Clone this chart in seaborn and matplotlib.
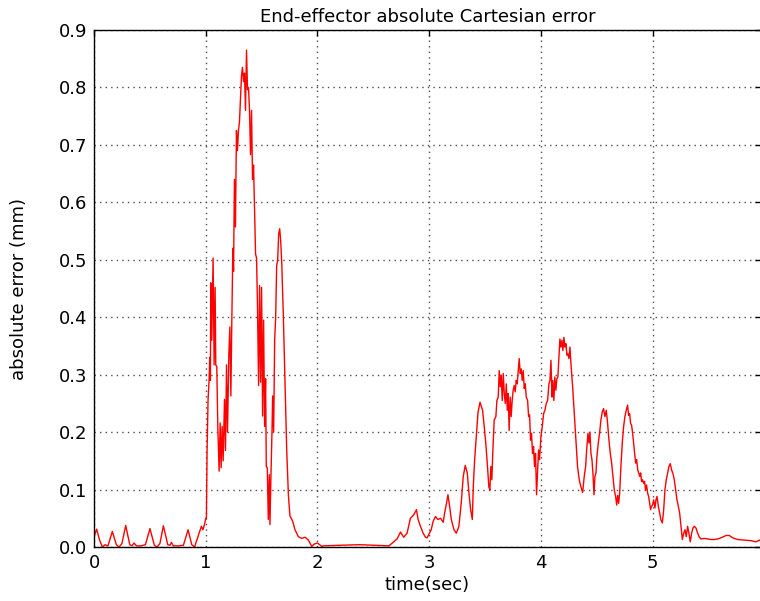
import numpy as np
import pandas as pd
import matplotlib
matplotlib.use("Agg")
import matplotlib.pyplot as plt
import seaborn as sns
from matplotlib.ticker import FormatStrFormatter

# ---- data ----
t_rest1 = [0.0, 0.024, 0.05, 0.075, 0.10, 0.125, 0.164, 0.20, 0.225, 0.25, 0.284, 0.32, 0.34,
           0.358, 0.38, 0.42, 0.46, 0.501, 0.54, 0.565, 0.59, 0.621, 0.66, 0.68, 0.693, 0.71,
           0.76, 0.80, 0.842, 0.875, 0.90, 0.925, 0.961, 0.975, 0.99, 1.0]
e_rest1 = [0.018, 0.031, 0.012, 0.0, 0.004, 0.002, 0.027, 0.004, 0.0, 0.006, 0.0375, 0.004, 0.002,
           0.007, 0.002, 0.002, 0.004, 0.032, 0.003, 0.0, 0.006, 0.037, 0.004, 0.003, 0.008, 0.002,
           0.002, 0.003, 0.030, 0.004, 0.0, 0.015, 0.036, 0.03, 0.04, 0.05]

t_burst = [1.006, 1.012, 1.021, 1.030, 1.036, 1.042, 1.045, 1.054, 1.066, 1.075, 1.084, 1.090,
           1.099, 1.108, 1.120, 1.129, 1.138, 1.147, 1.156, 1.168, 1.177, 1.186, 1.195, 1.207,
           1.216, 1.225, 1.234, 1.243, 1.249, 1.257, 1.266, 1.275, 1.284, 1.293, 1.302, 1.311,
           1.320, 1.329, 1.338, 1.347, 1.356, 1.365, 1.374, 1.383, 1.392, 1.401, 1.410, 1.419,
           1.428, 1.437, 1.446, 1.455, 1.464, 1.473, 1.482, 1.491, 1.500, 1.509, 1.518, 1.527,
           1.536, 1.542, 1.551, 1.560, 1.569, 1.575, 1.584, 1.593, 1.599, 1.608, 1.617, 1.626,
           1.635, 1.644, 1.653, 1.662, 1.671, 1.680, 1.695, 1.710, 1.725, 1.740, 1.754, 1.778,
           1.799, 1.829, 1.859, 1.889, 1.919, 1.949, 1.970, 2.000, 2.039]
e_burst = [0.05, 0.168, 0.257, 0.29, 0.33, 0.29, 0.46, 0.36, 0.503, 0.317, 0.452, 0.317,
           0.314, 0.21, 0.132, 0.216, 0.138, 0.21, 0.15, 0.257, 0.168, 0.317, 0.20, 0.335,
           0.383, 0.263, 0.40, 0.52, 0.48, 0.64, 0.557, 0.725, 0.69, 0.725, 0.74, 0.78,
           0.82, 0.835, 0.81, 0.825, 0.76, 0.865, 0.796, 0.80, 0.76, 0.683, 0.76, 0.64,
           0.665, 0.59, 0.51, 0.503, 0.413, 0.281, 0.455, 0.287, 0.452, 0.228, 0.395, 0.21,
           0.293, 0.14, 0.138, 0.048, 0.126, 0.039, 0.126, 0.20, 0.263, 0.20, 0.36, 0.40,
           0.49, 0.50, 0.545, 0.554, 0.533, 0.497, 0.40, 0.287, 0.168, 0.09, 0.054, 0.045,
           0.03, 0.018, 0.015, 0.017, 0.012, 0.001, 0.005, 0.007, 0.001]

t_rest2 = [2.05, 2.2, 2.38, 2.5, 2.64]
e_rest2 = [0.002, 0.003, 0.004, 0.003, 0.002]

t_move = [2.713, 2.743, 2.772, 2.802, 2.832, 2.862, 2.886, 2.901, 2.922, 2.946, 2.967, 2.982,
          3.003, 3.018, 3.036, 3.057, 3.078, 3.102, 3.126, 3.138, 3.156, 3.168, 3.183, 3.198,
          3.222, 3.243, 3.266, 3.287, 3.305, 3.323, 3.341, 3.356, 3.371, 3.386, 3.395, 3.407,
          3.422, 3.437, 3.455, 3.478, 3.493, 3.507, 3.522, 3.534, 3.543, 3.552, 3.561, 3.570,
          3.582, 3.597, 3.606, 3.618, 3.627, 3.636, 3.645, 3.654, 3.663, 3.672, 3.681, 3.690,
          3.699, 3.707, 3.716, 3.725, 3.734, 3.743, 3.752, 3.761, 3.770, 3.779, 3.788, 3.797,
          3.806, 3.815, 3.824, 3.833, 3.842, 3.851, 3.860, 3.869, 3.881, 3.890, 3.899, 3.907,
          3.916, 3.925, 3.934, 3.943, 3.952, 3.961, 3.970, 3.979, 3.988, 4.000, 4.012, 4.024,
          4.036, 4.048, 4.060, 4.072, 4.081, 4.090, 4.099, 4.107, 4.116, 4.125, 4.134, 4.143,
          4.152, 4.161, 4.170, 4.179, 4.188, 4.197, 4.206, 4.215, 4.224, 4.233, 4.242, 4.251,
          4.260, 4.269, 4.284, 4.299, 4.313, 4.328, 4.343, 4.358, 4.373, 4.388, 4.400, 4.412,
          4.421, 4.430, 4.439, 4.448, 4.457, 4.466, 4.475, 4.484, 4.493, 4.501, 4.513, 4.525,
          4.537, 4.549, 4.561, 4.573, 4.585, 4.597, 4.609, 4.621, 4.633, 4.645, 4.657, 4.669,
          4.678, 4.687, 4.696, 4.705, 4.716, 4.728, 4.740, 4.752, 4.764, 4.776, 4.785, 4.794,
          4.803, 4.812, 4.821, 4.830, 4.839, 4.848, 4.857, 4.866, 4.875, 4.884, 4.893, 4.901,
          4.910, 4.919, 4.928, 4.937, 4.946, 4.955, 4.964, 4.973, 4.982, 4.991, 5.000, 5.009,
          5.021, 5.030, 5.039, 5.051, 5.063, 5.075, 5.087, 5.099, 5.110, 5.122, 5.134, 5.146,
          5.158, 5.170, 5.182, 5.194, 5.206, 5.218, 5.230, 5.242, 5.254, 5.266, 5.278, 5.290,
          5.301, 5.313, 5.325, 5.337, 5.349, 5.361, 5.373, 5.388, 5.403, 5.418]
e_move = [0.014, 0.026, 0.017, 0.024, 0.050, 0.056, 0.065, 0.048, 0.036, 0.024, 0.017, 0.016,
          0.024, 0.030, 0.045, 0.053, 0.048, 0.050, 0.043, 0.059, 0.077, 0.091, 0.071, 0.048,
          0.030, 0.024, 0.036, 0.077, 0.123, 0.142, 0.129, 0.094, 0.065, 0.048, 0.106, 0.152,
          0.193, 0.234, 0.252, 0.238, 0.209, 0.18, 0.14, 0.105, 0.099, 0.140, 0.117, 0.168,
          0.221, 0.227, 0.255, 0.261, 0.307, 0.279, 0.299, 0.255, 0.302, 0.267, 0.25, 0.284,
          0.238, 0.267, 0.203, 0.261, 0.227, 0.255, 0.273, 0.281, 0.270, 0.290, 0.284, 0.307,
          0.328, 0.302, 0.310, 0.290, 0.307, 0.276, 0.284, 0.261, 0.255, 0.227, 0.230, 0.186,
          0.198, 0.163, 0.175, 0.140, 0.163, 0.091, 0.129, 0.169, 0.152, 0.192, 0.209, 0.232,
          0.238, 0.250, 0.255, 0.284, 0.290, 0.325, 0.261, 0.290, 0.255, 0.296, 0.273, 0.293,
          0.296, 0.330, 0.362, 0.348, 0.360, 0.342, 0.365, 0.348, 0.354, 0.334, 0.336, 0.328,
          0.348, 0.319, 0.279, 0.232, 0.186, 0.140, 0.117, 0.105, 0.095, 0.123, 0.140, 0.175,
          0.198, 0.181, 0.200, 0.163, 0.152, 0.128, 0.091, 0.123, 0.129, 0.157, 0.180, 0.198,
          0.221, 0.235, 0.241, 0.227, 0.238, 0.215, 0.186, 0.163, 0.146, 0.123, 0.099, 0.088,
          0.073, 0.090, 0.076, 0.094, 0.140, 0.180, 0.209, 0.227, 0.238, 0.247, 0.229, 0.232,
          0.215, 0.212, 0.198, 0.181, 0.163, 0.146, 0.152, 0.135, 0.129, 0.123, 0.129, 0.114,
          0.117, 0.111, 0.114, 0.099, 0.108, 0.094, 0.088, 0.076, 0.065, 0.071, 0.073, 0.082,
          0.068, 0.082, 0.088, 0.071, 0.059, 0.047, 0.042, 0.065, 0.099, 0.117, 0.129, 0.140,
          0.145, 0.134, 0.128, 0.117, 0.099, 0.082, 0.071, 0.059, 0.036, 0.013, 0.024, 0.030,
          0.018, 0.036, 0.024, 0.009, 0.024, 0.033, 0.036, 0.033, 0.024, 0.017]

t_rest3 = [5.433, 5.463, 5.493, 5.522, 5.552, 5.582, 5.612, 5.657, 5.687, 5.716, 5.761,
           5.821, 5.881, 5.925, 5.955, 5.970]
e_rest3 = [0.014, 0.015, 0.014, 0.013, 0.013, 0.014, 0.016, 0.020, 0.020, 0.016, 0.013,
           0.012, 0.011, 0.009, 0.012, 0.010]

x_ticks = [0, 1, 2, 3, 4, 5]
y_ticks = [0.0, 0.1, 0.2, 0.3, 0.4, 0.5, 0.6, 0.7, 0.8, 0.9]

df = pd.DataFrame({
    "time": t_rest1 + t_burst + t_rest2 + t_move + t_rest3,
    "error": e_rest1 + e_burst + e_rest2 + e_move + e_rest3,
})

# ---- style ----
sns.set_theme(style="white")
plt.rcParams["font.family"] = ["DejaVu Sans"]
plt.rcParams["xtick.direction"] = "in"
plt.rcParams["ytick.direction"] = "in"

fig = plt.figure(figsize=(7.6, 6.01), dpi=100)
ax = fig.add_axes([94 / 760, 54 / 601, 667 / 760, 517 / 601])

sns.lineplot(data=df, x="time", y="error", ax=ax, color="red", linewidth=1.0,
             sort=False, estimator=None)

ax.set_xlim(0, 5.97)
ax.set_ylim(0, 0.9)
ax.set_xticks(x_ticks)
ax.set_yticks(y_ticks)
ax.yaxis.set_major_formatter(FormatStrFormatter("%.1f"))
ax.tick_params(axis="both", which="major", direction="in", length=4, width=1,
               labelsize=13, colors="black", top=True, right=True, pad=5)
ax.grid(True, color="0.3", linestyle=(0, (1, 3)), linewidth=1.0)
for s in ax.spines.values():
    s.set_color("black")
    s.set_linewidth(1.0)

ax.set_title("End-effector absolute Cartesian error", fontsize=13, color="black", pad=6)
ax.set_xlabel("time(sec)", fontsize=13, color="black", labelpad=3)
ax.set_ylabel("absolute error (mm)", fontsize=13, color="black", labelpad=22)

fig.savefig("out.png", dpi=100)
